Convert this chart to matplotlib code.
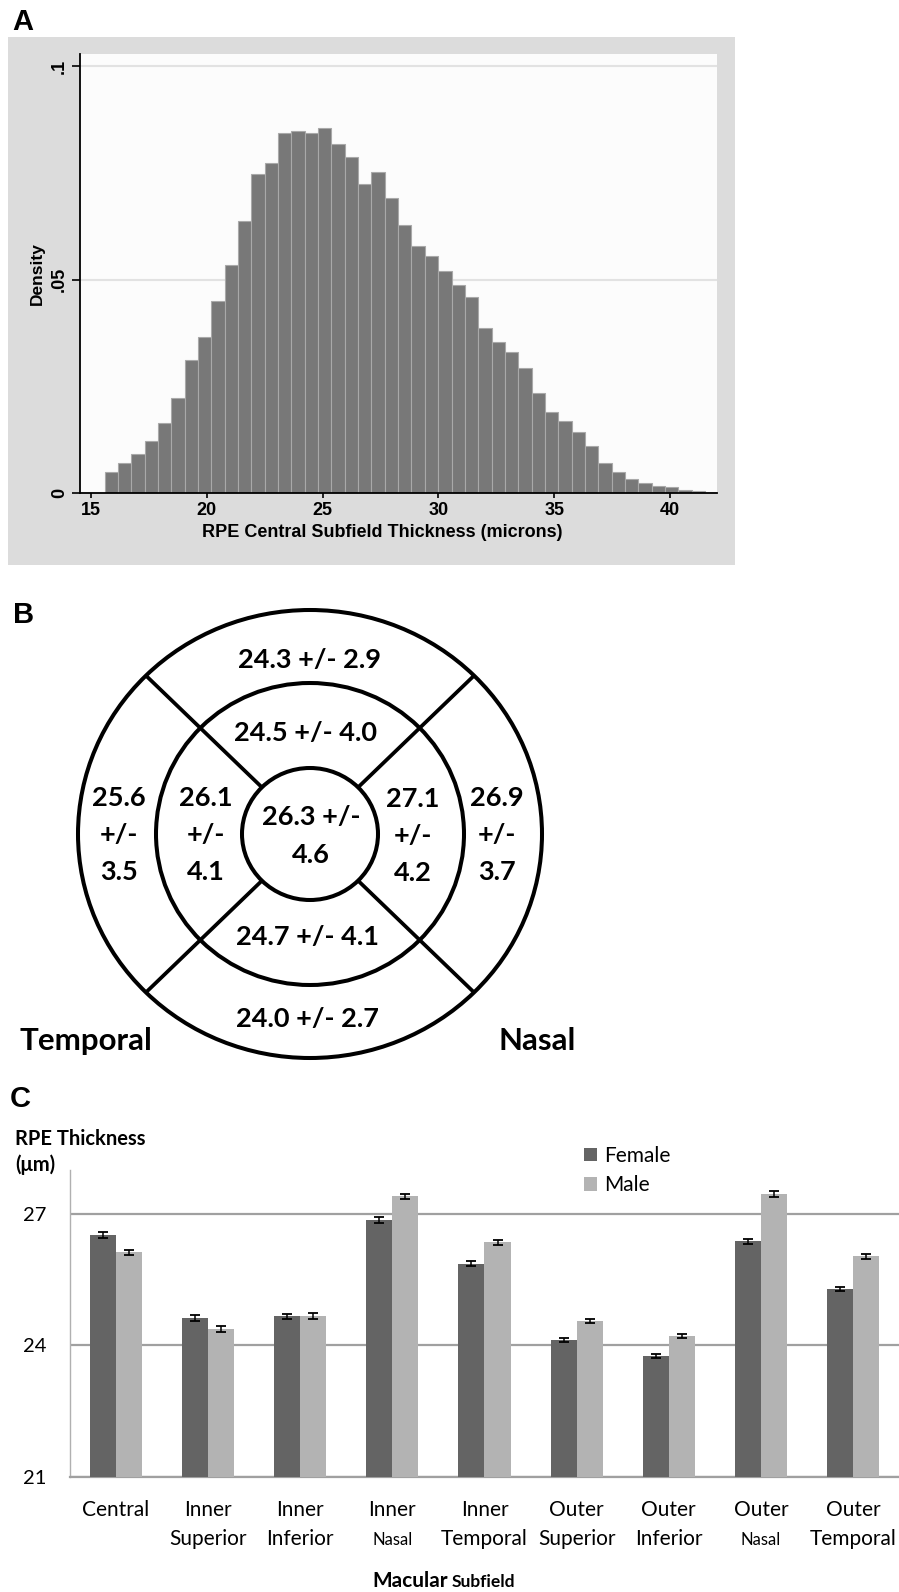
import numpy as np
import matplotlib
matplotlib.use("Agg")
import matplotlib.pyplot as plt
from matplotlib.patches import Ellipse
from matplotlib import transforms

W, H = 899, 1592
DPI = 100

# ---- Panel A: histogram of RPE central subfield thickness ----
hist_start = 15.6
hist_bin_width = 0.5757
hist_density = [0.0051, 0.0072, 0.0091, 0.0123, 0.0164, 0.0224, 0.0312, 0.0367, 0.0451, 0.0535,
                0.0638, 0.0747, 0.0774, 0.0845, 0.0848, 0.0843, 0.0855, 0.0818, 0.0787, 0.0724,
                0.0752, 0.0692, 0.0628, 0.0579, 0.0556, 0.0521, 0.0489, 0.0459, 0.0388, 0.0354,
                0.0332, 0.0294, 0.0234, 0.0191, 0.0169, 0.0144, 0.0111, 0.0072, 0.0051, 0.0034,
                0.0023, 0.0018, 0.0015, 0.0008, 0.0005]
hist_xticks = [15, 20, 25, 30, 35, 40]
hist_yticks = [0, 0.05, 0.1]
hist_yticklabels = ["0", ".05", ".1"]

# ---- Panel B: ETDRS grid, mean +/- SD ----
grid_regions = ["Outer Superior", "Inner Superior", "Central", "Inner Temporal", "Outer Temporal",
                "Inner Nasal", "Outer Nasal", "Inner Inferior", "Outer Inferior"]
grid_mean = [24.3, 24.5, 26.3, 26.1, 25.6, 27.1, 26.9, 24.7, 24.0]
grid_sd = [2.9, 4.0, 4.6, 4.1, 3.5, 4.2, 3.7, 4.1, 2.7]

# ---- Panel C: thickness by sex and subfield ----
subfield_line1 = ["Central", "Inner", "Inner", "Inner", "Inner", "Outer", "Outer", "Outer", "Outer"]
subfield_line2 = ["", "Superior", "Inferior", "Nasal", "Temporal", "Superior", "Inferior", "Nasal", "Temporal"]
female_mean = [26.52, 24.62, 24.66, 26.86, 25.86, 24.12, 23.76, 26.37, 25.28]
male_mean = [26.12, 24.37, 24.66, 27.40, 26.35, 24.55, 24.21, 27.45, 26.03]
female_err = [0.065, 0.06, 0.06, 0.06, 0.06, 0.05, 0.05, 0.06, 0.05]
male_err = [0.065, 0.06, 0.07, 0.06, 0.06, 0.05, 0.05, 0.06, 0.06]
c_yticks = [21, 24, 27]

SANS = ["Liberation Sans", "DejaVu Sans"]
CAL = ["Lato", "DejaVu Sans"]


def px_rect(x0, y0, x1, y1):
    # pixel box (top-left origin) -> figure fraction rect
    return [x0 / W, 1 - y1 / H, (x1 - x0) / W, (y1 - y0) / H]


fig = plt.figure(figsize=(W / DPI, H / DPI), dpi=DPI)
fig.patch.set_facecolor("white")

# ================= Panel A =================
bg = fig.add_axes(px_rect(8, 37, 735, 565), zorder=-1)
bg.set_facecolor("#dcdcdc")
bg.set_xticks([])
bg.set_yticks([])
for s in bg.spines.values():
    s.set_visible(False)

axA = fig.add_axes(px_rect(80, 54, 717, 493.3))
axA.set_facecolor("#fcfcfc")
edges = hist_start + hist_bin_width * np.arange(len(hist_density))
axA.bar(edges, hist_density, width=hist_bin_width, align="edge",
        color="#787878", edgecolor="#a9a9a9", linewidth=0.8, zorder=2)
axA.set_xlim(14.53, 42.03)
axA.set_ylim(0, 0.1029)
axA.set_xticks(hist_xticks)
axA.set_xticklabels([str(t) for t in hist_xticks], family=SANS, fontsize=13, fontweight="bold")
axA.set_yticks(hist_yticks)
axA.set_yticklabels(hist_yticklabels, rotation=90, va="center", family=SANS, fontsize=13,
                    fontweight="bold")
axA.yaxis.grid(True, color="#e2e2e2", linewidth=1.5)
axA.set_axisbelow(True)
for side in ["top", "right"]:
    axA.spines[side].set_visible(False)
for side in ["left", "bottom"]:
    axA.spines[side].set_linewidth(1.3)
    axA.spines[side].set_color("black")
axA.tick_params(axis="y", length=5.8, width=1.2, pad=3)
axA.tick_params(axis="x", length=3.6, width=1.2, pad=3)
axA.set_xlabel("RPE Central Subfield Thickness (microns)", family=SANS, fontsize=13, fontweight="bold")
axA.xaxis.set_label_coords(0.475, -0.07)
axA.set_ylabel("Density", family=SANS, fontsize=12.5, fontweight="bold")
axA.yaxis.set_label_coords(-0.055, 0.5)

# ================= Panel C =================
axC = fig.add_axes(px_rect(70, 1170, 899, 1476.7))
x = np.arange(len(female_mean))
bw = 0.283
err_kw = dict(elinewidth=1.1, capthick=1.3, ecolor="black")
axC.bar(x - bw / 2, female_mean, bw, yerr=female_err, color="#646464", capsize=3.5,
        error_kw=err_kw, label="Female", zorder=3)
axC.bar(x + bw / 2, male_mean, bw, yerr=male_err, color="#b3b3b3", capsize=3.5,
        error_kw=err_kw, label="Male", zorder=3)
axC.set_xlim(-0.5, len(female_mean) - 0.5)
axC.set_ylim(21, 28)
axC.set_yticks(c_yticks)
axC.set_yticklabels([str(t) for t in c_yticks], family=CAL, fontsize=14.5)
axC.set_xticks([])
axC.yaxis.grid(True, color="#a0a0a0", linewidth=1.6)
axC.set_axisbelow(True)
axC.tick_params(axis="y", length=0, pad=17)
for side in ["top", "right"]:
    axC.spines[side].set_visible(False)
axC.spines["bottom"].set_color("#a0a0a0")
axC.spines["bottom"].set_linewidth(1.6)
axC.spines["left"].set_color("#b0b0b0")
axC.spines["left"].set_linewidth(1.0)
axC.legend(loc="upper left", bbox_to_anchor=(584 / W, 1 - 1146 / H), bbox_transform=fig.transFigure,
           frameon=False, prop=dict(family=CAL, size=15), handlelength=0.62, handleheight=0.6,
           handletextpad=0.35, labelspacing=0.45, borderpad=0, borderaxespad=0)

# ================= Overlay (pixel coordinates) =================
ov = fig.add_axes([0, 0, 1, 1], zorder=5)
ov.set_xlim(0, W)
ov.set_ylim(H, 0)
ov.axis("off")

# panel letters
for letter, lx, ly in [("A", 12, 30), ("B", 13, 623), ("C", 10, 1107)]:
    ov.text(lx, ly, letter, family=SANS, fontsize=21, fontweight="bold", ha="left", va="baseline")

# Panel B grid
cx, cy = 310, 834
ring_lw = 2.9
for rx, ry in [(232, 224), (154, 151), (68, 66)]:
    ov.add_patch(Ellipse((cx, cy), 2 * rx, 2 * ry, fill=False, edgecolor="black", linewidth=ring_lw))
for ang in [45, 135, 225, 315]:
    c, s = np.cos(np.radians(ang)), np.sin(np.radians(ang))
    ov.plot([cx + 68 * c, cx + 232 * c], [cy - 66 * s, cy - 224 * s], color="black",
            linewidth=2.7, solid_capstyle="butt")

# text layout for each region: (x centre, baselines, style)
region_layout = {
    "Outer Superior": (310, [668], "one"),
    "Inner Superior": (306, [741], "one"),
    "Central": (311, [825, 863], "two"),
    "Inner Temporal": (206, [806, 843, 880], "three"),
    "Outer Temporal": (119, [806, 843, 880], "three"),
    "Inner Nasal": (413, [807, 844, 881], "three"),
    "Outer Nasal": (497, [806, 843, 880], "three"),
    "Inner Inferior": (307, [945], "one"),
    "Outer Inferior": (307, [1027], "one"),
}
for name, m, sd in zip(grid_regions, grid_mean, grid_sd):
    tx, bases, style = region_layout[name]
    if style == "one":
        lines = [f"{m:.1f} +/- {sd:.1f}"]
    elif style == "two":
        lines = [f"{m:.1f} +/-", f"{sd:.1f}"]
    else:
        lines = [f"{m:.1f}", "+/-", f"{sd:.1f}"]
    for line, by in zip(lines, bases):
        ov.text(tx, by, line, family=CAL, fontsize=19.5, fontweight="bold", ha="center", va="baseline")

ov.text(86, 1050, "Temporal", family=CAL, fontsize=22.5, fontweight="bold", ha="center", va="baseline")
ov.text(537, 1050, "Nasal", family=CAL, fontsize=22.5, fontweight="bold", ha="center", va="baseline")

# Panel C text
ov.text(15, 1145, "RPE Thickness", family=CAL, fontsize=14.5, fontweight="bold", ha="left", va="baseline")
ov.text(15, 1171, "(μm)", family=CAL, fontsize=14.5, fontweight="bold", ha="left", va="baseline")

trans = transforms.blended_transform_factory(axC.transData, ov.transData)
for i, (l1, l2) in enumerate(zip(subfield_line1, subfield_line2)):
    ov.text(i, 1516, l1, family=CAL, fontsize=15, ha="center", va="baseline", transform=trans)
    if l2:
        ov.text(i, 1545, l2, family=CAL, fontsize=12 if l2 == "Nasal" else 15,
                ha="center", va="baseline", transform=trans)

ov.text(448, 1587, "Macular", family=CAL, fontsize=15, fontweight="bold", ha="right", va="baseline")
ov.text(452, 1587, "Subfield", family=CAL, fontsize=12.5, fontweight="bold", ha="left", va="baseline")

fig.savefig("out.png", dpi=DPI)
